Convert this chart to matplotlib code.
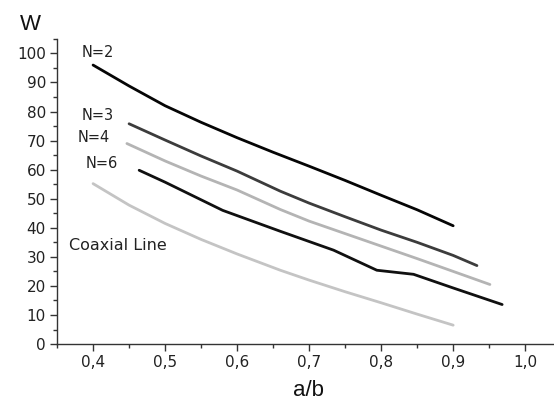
import numpy as np
import matplotlib.pyplot as plt
from matplotlib.ticker import MultipleLocator, FuncFormatter

plt.rcParams['font.family'] = ['DejaVu Sans']

# curves (a/b, W)
ab_n2 = [0.40, 0.45, 0.50, 0.55, 0.60, 0.65, 0.70, 0.75, 0.80, 0.85, 0.90]
w_n2 = [96.0, 88.8, 82.0, 76.3, 71.0, 66.0, 61.2, 56.3, 51.2, 46.2, 40.7]

ab_n3 = [0.45, 0.50, 0.55, 0.60, 0.66, 0.70, 0.75, 0.80, 0.85, 0.90, 0.933]
w_n3 = [75.8, 70.2, 64.7, 59.5, 52.6, 48.5, 43.8, 39.2, 35.0, 30.5, 27.0]

ab_n4 = [0.447, 0.50, 0.55, 0.60, 0.66, 0.70, 0.75, 0.80, 0.85, 0.90, 0.951]
w_n4 = [69.0, 63.0, 57.8, 53.0, 46.3, 42.3, 38.0, 33.7, 29.4, 25.0, 20.5]

ab_n6 = [0.464, 0.50, 0.58, 0.66, 0.734, 0.794, 0.845, 0.90, 0.968]
w_n6 = [59.8, 55.7, 46.0, 38.8, 32.3, 25.4, 24.0, 19.3, 13.6]

ab_coax = [0.40, 0.45, 0.50, 0.55, 0.60, 0.66, 0.70, 0.75, 0.80, 0.85, 0.90]
w_coax = [55.2, 47.8, 41.5, 36.0, 31.0, 25.4, 22.0, 18.0, 14.2, 10.3, 6.5]

fig = plt.figure(figsize=(5.54, 4.01), dpi=100)
ax = fig.add_axes([0.103, 0.142, 0.897, 0.761])

lw = 2.0
ax.plot(ab_n2, w_n2, c='#050505', lw=lw, solid_capstyle='round')
ax.plot(ab_n3, w_n3, c='#3c3c3c', lw=lw, solid_capstyle='round')
ax.plot(ab_n4, w_n4, c='#b4b4b4', lw=lw, solid_capstyle='round')
ax.plot(ab_n6, w_n6, c='#101010', lw=lw, solid_capstyle='round')
ax.plot(ab_coax, w_coax, c='#c4c4c4', lw=lw, solid_capstyle='round')

txt = dict(fontsize=10.5, color='#222222', ha='center', va='center')
ax.text(0.406, 100.3, 'N=2', **txt)
ax.text(0.407, 78.7, 'N=3', **txt)
ax.text(0.401, 71.1, 'N=4', **txt)
ax.text(0.4125, 62.2, 'N=6', **txt)
ax.text(0.367, 34.0, 'Coaxial Line', fontsize=11.5, color='#222222', ha='left', va='center')

ax.set_xlim(0.35, 1.04)
ax.set_ylim(0, 105)
ax.xaxis.set_major_locator(MultipleLocator(0.1))
ax.xaxis.set_minor_locator(MultipleLocator(0.05))
ax.yaxis.set_major_locator(MultipleLocator(10))
ax.yaxis.set_minor_locator(MultipleLocator(5))
ax.set_xticks(np.arange(0.4, 1.01, 0.1))
ax.xaxis.set_major_formatter(FuncFormatter(lambda v, p: ('%.1f' % v).replace('.', ',')))
ax.yaxis.set_major_formatter(FuncFormatter(lambda v, p: '%d' % round(v)))

for s in ['top', 'right']:
    ax.spines[s].set_visible(False)
for s in ['left', 'bottom']:
    ax.spines[s].set_color('#333333')
    ax.spines[s].set_linewidth(1.0)
ax.tick_params(which='major', direction='out', length=5, width=1.0, color='#333333',
               labelsize=11, labelcolor='#222222', pad=3)
ax.tick_params(which='minor', direction='out', length=3, width=1.0, color='#333333')

fig.text(0.054, 0.938, 'W', fontsize=16, family='Liberation Sans', color='#111111',
         ha='center', va='center')
fig.text(0.556, 0.027, 'a/b', fontsize=16, family='Liberation Sans', color='#111111',
         ha='center', va='center')

fig.savefig('out.png', dpi=100)
